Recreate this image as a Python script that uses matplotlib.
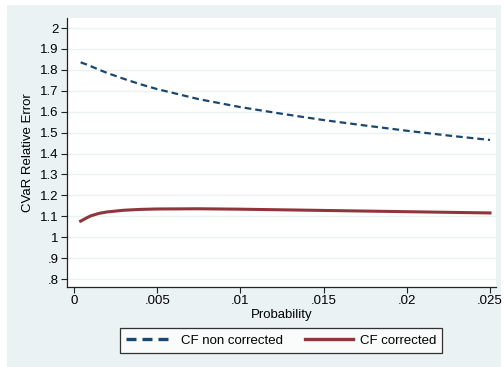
import matplotlib.pyplot as plt
from matplotlib.patches import Rectangle

# data
prob = [0.0004, 0.00075, 0.001, 0.0015, 0.002, 0.003, 0.004, 0.005, 0.0075, 0.01,
        0.0125, 0.015, 0.0175, 0.02, 0.0225, 0.025]
cf_non_corrected = [1.836, 1.826, 1.818, 1.801, 1.785, 1.757, 1.731, 1.708, 1.66, 1.622,
                    1.59, 1.56, 1.534, 1.509, 1.486, 1.465]
cf_corrected = [1.077, 1.092, 1.102, 1.114, 1.121, 1.129, 1.133, 1.135, 1.136, 1.134,
                1.131, 1.128, 1.125, 1.122, 1.119, 1.116]

y_ticks = [0.8, 0.9, 1.0, 1.1, 1.2, 1.3, 1.4, 1.5, 1.6, 1.7, 1.8, 1.9, 2.0]
y_labels = ['.8', '.9', '1', '1.1', '1.2', '1.3', '1.4', '1.5', '1.6', '1.7', '1.8', '1.9', '2']
x_ticks = [0, 0.005, 0.01, 0.015, 0.02, 0.025]
x_labels = ['0', '.005', '.01', '.015', '.02', '.025']

bg = '#eaf2f3'
navy = '#1a476f'
maroon = '#90353b'

plt.rcParams['font.family'] = ['Liberation Sans', 'DejaVu Sans']
plt.rcParams['font.size'] = 9.5

W, H = 504, 367
fig = plt.figure(figsize=(W / 100, H / 100), dpi=100, facecolor='white')
# outer graph region
fig.patches.append(Rectangle((7 / W, 0), 494 / W, 1 - 5 / H, transform=fig.transFigure,
                             facecolor=bg, edgecolor='none', zorder=-5))

ax = fig.add_axes([67 / W, 1 - 287 / H, 429 / W, 269 / H])
ax.set_facecolor('white')

ax.plot(prob, cf_non_corrected, color=navy, lw=1.6, linestyle=(0, (3.0, 1.8)),
        label='CF non corrected')
ax.plot(prob, cf_corrected, color=maroon, lw=2.2, label='CF corrected')

ax.set_xlim(-0.00042, 0.02536)
ax.set_ylim(0.762, 2.048)
ax.set_yticks(y_ticks)
ax.set_yticklabels(y_labels)
ax.set_xticks(x_ticks)
ax.set_xticklabels(x_labels)
ax.grid(axis='y', color=bg, lw=1)
ax.set_axisbelow(True)

for side in ['top', 'right']:
    ax.spines[side].set_visible(False)
for side in ['left', 'bottom']:
    ax.spines[side].set_color('#222222')
    ax.spines[side].set_linewidth(0.9)
ax.tick_params(direction='out', length=4, width=0.8, color='#222222', labelcolor='black', pad=2)

ax.set_xlabel('Probability', labelpad=1)
ax.set_ylabel('CVaR Relative Error', labelpad=4)

leg = fig.legend(loc='center', bbox_to_anchor=(281 / W, 1 - 340.5 / H), ncol=2,
                 frameon=True, fancybox=False, edgecolor='black', handlelength=3.6,
                 columnspacing=1.7, borderpad=0.45, handletextpad=0.55)
leg.get_frame().set_linewidth(0.9)
leg.get_frame().set_facecolor('white')
for line in leg.get_lines():
    line.set_linewidth(2.4)

fig.savefig('out.png', dpi=100, facecolor=fig.get_facecolor())
